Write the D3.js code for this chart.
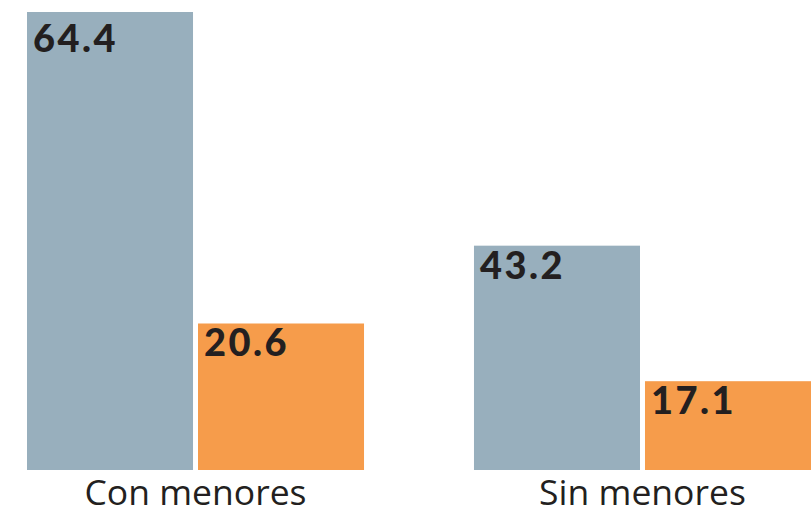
<!DOCTYPE html>
<html>
<head>
<meta charset="utf-8">
<script src="https://cdn.jsdelivr.net/npm/d3@7"></script>
<style>
  body { margin: 0; background: #fff; }
  svg { display: block; }
</style>
</head>
<body>
<svg id="chart" width="811" height="511"></svg>
<script>
// Data
const groups = ["Con menores", "Sin menores"];
const series = ["a", "b"];
const valuesA = [64.4, 43.2];   // gray bars
const valuesB = [20.6, 17.1];   // orange bars
// each group is drawn on its own vertical scale in the original
const groupScaleMax = [64.4, 88.2];

const colors = { a: "#98afbd", b: "#f69c4b" };

const width = 811, height = 511;
const baseline = 470, plotTop = 12;

const svg = d3.select("#chart");

const x0 = d3.scaleBand()
    .domain(groups)
    .range([27, width])
    .paddingInner(0.246)
    .paddingOuter(0);

const x1 = d3.scaleBand()
    .domain(series)
    .range([0, x0.bandwidth()])
    .paddingInner(0.0292)
    .paddingOuter(0);

const yScales = groupScaleMax.map(m => d3.scaleLinear().domain([0, m]).range([baseline, plotTop]));

const rows = groups.map((g, i) => ({
    group: g,
    y: yScales[i],
    bars: [
        { key: "a", value: valuesA[i] },
        { key: "b", value: valuesB[i] }
    ]
}));

const g = svg.selectAll(".group")
    .data(rows)
    .enter().append("g")
    .attr("class", "group")
    .attr("transform", d => `translate(${x0(d.group)},0)`);

const bar = g.selectAll(".bar")
    .data(d => d.bars.map(b => ({ ...b, y: d.y })))
    .enter().append("g")
    .attr("class", "bar");

bar.append("rect")
    .attr("x", d => x1(d.key))
    .attr("y", d => d.y(d.value))
    .attr("width", x1.bandwidth())
    .attr("height", d => baseline - d.y(d.value))
    .attr("fill", d => colors[d.key]);

// value labels inside the top-left of each bar
bar.append("text")
    .attr("x", d => x1(d.key) + 6)
    .attr("y", d => Math.max(d.y(d.value) + 33, 52))
    .attr("font-family", "Lato")
    .attr("font-weight", 900)
    .attr("font-size", "38px")
    .attr("letter-spacing", "2.5px")
    .attr("fill", "#231f20")
    .text(d => d.value.toFixed(1));

// category labels
g.append("text")
    .attr("x", x0.bandwidth() / 2)
    .attr("y", 505)
    .attr("text-anchor", "middle")
    .attr("font-family", "Open Sans")
    .attr("font-size", "35.5px")
    .attr("fill", "#231f20")
    .text(d => d.group);
</script>
</body>
</html>
